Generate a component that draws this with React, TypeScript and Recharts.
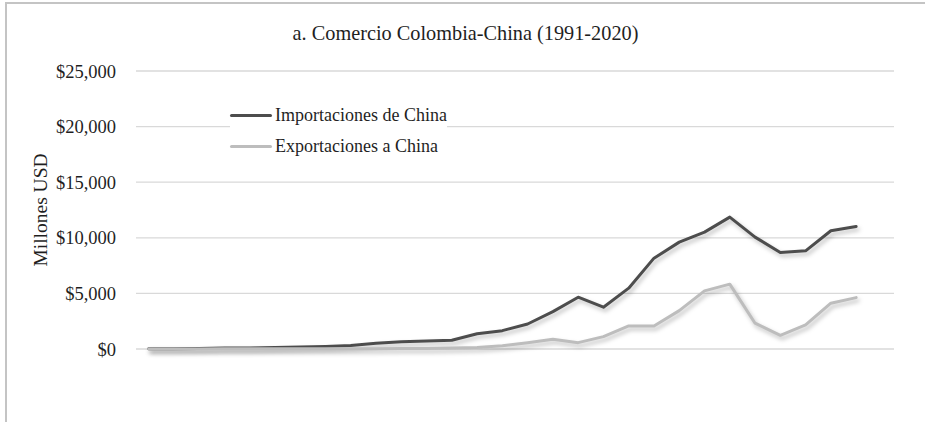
import { CartesianGrid, Line, LineChart, XAxis, YAxis } from 'recharts';

const years = [
  '1991', '1992', '1993', '1994', '1995', '1996', '1997', '1998', '1999', '2000',
  '2001', '2002', '2003', '2004', '2005', '2006', '2007', '2008', '2009', '2010',
  '2011', '2012', '2013', '2014', '2015', '2016', '2017', '2018', '2019', '2020',
];

const importaciones = [
  15, 30, 50, 80, 100, 130, 180, 230, 320, 510,
  650, 720, 790, 1370, 1650, 2250, 3360, 4660, 3760, 5470,
  8170, 9610, 10510, 11860, 10060, 8680, 8830, 10630, 11020, null,
];

const exportaciones = [
  5, 8, 10, 12, 15, 20, 20, 15, 25, 30,
  40, 50, 80, 130, 300, 570, 870, 570, 1110, 2070,
  2070, 3450, 5230, 5830, 2320, 1230, 2160, 4120, 4620, null,
];

const yTicks = [0, 5000, 10000, 15000, 20000, 25000];

const series = [
  { key: 'imp', name: 'Importaciones de China', color: '#4d4d4d' },
  { key: 'exp', name: 'Exportaciones a China', color: '#bdbdbd' },
];

const data = years.map((year, i) => ({
  year,
  imp: importaciones[i],
  exp: exportaciones[i],
}));

const serif = '"Liberation Serif", "Times New Roman", serif';

function YLabel() {
  return (
    <text
      x={40}
      y={210}
      transform="rotate(-90 40 210)"
      textAnchor="middle"
      dominantBaseline="central"
      fontFamily={serif}
      fontSize={19.5}
      fill="#1f1f1f"
    >
      Millones USD
    </text>
  );
}

export default function App() {
  return (
    <div style={{ position: 'absolute', left: 0, top: 0, width: 925, height: 422, overflow: 'hidden', background: '#fff' }}>
      <style>{`.recharts-line-curve { filter: drop-shadow(2px 3px 2px rgba(0,0,0,0.25)); }`}</style>
      <div
        style={{
          position: 'absolute',
          left: 5,
          top: 2,
          width: 940,
          height: 440,
          border: '2px solid #c4c4c4',
        }}
      />
      <div
        style={{
          position: 'absolute',
          top: 22,
          left: 3,
          width: 925,
          textAlign: 'center',
          fontFamily: serif,
          fontSize: 20.3,
          color: '#1f1f1f',
        }}
      >
        a. Comercio Colombia-China (1991-2020)
      </div>
      <div style={{ position: 'absolute', left: 0, top: 0 }}>
        <LineChart width={925} height={422} data={data} margin={{ top: 71, right: 31, bottom: 73, left: 0 }}>
          <CartesianGrid vertical={false} stroke="#d9d9d9" strokeWidth={1.3} />
          <XAxis dataKey="year" hide padding={{ left: 12.6, right: 12.6 }} />
          <YAxis
            width={136}
            domain={[0, 25000]}
            ticks={yTicks}
            tickLine={false}
            axisLine={false}
            tickMargin={14}
            tick={{ fontFamily: serif, fontSize: 18.5, fill: '#1f1f1f' }}
            tickFormatter={(v: number) => `$${v.toLocaleString('en-US')}`}
            label={<YLabel />}
          />
          {series.map((s) => (
            <Line
              key={s.key}
              type="linear"
              dataKey={s.key}
              name={s.name}
              stroke={s.color}
              strokeWidth={3}
              strokeLinejoin="round"
              strokeLinecap="round"
              dot={false}
              activeDot={false}
              isAnimationActive={false}
            />
          ))}
        </LineChart>
      </div>
      <div
        style={{
          position: 'absolute',
          left: 230,
          top: 100,
          fontFamily: serif,
          fontSize: 18,
          color: '#1f1f1f',
          background: '#fff',
        }}
      >
        {series.map((s) => (
          <div key={s.key} style={{ display: 'flex', alignItems: 'center', height: 31 }}>
            <span
              style={{
                display: 'inline-block',
                width: 42,
                height: 3,
                borderRadius: 2,
                background: s.color,
                marginRight: 3,
              }}
            />
            <span>{s.name}</span>
          </div>
        ))}
      </div>
    </div>
  );
}
